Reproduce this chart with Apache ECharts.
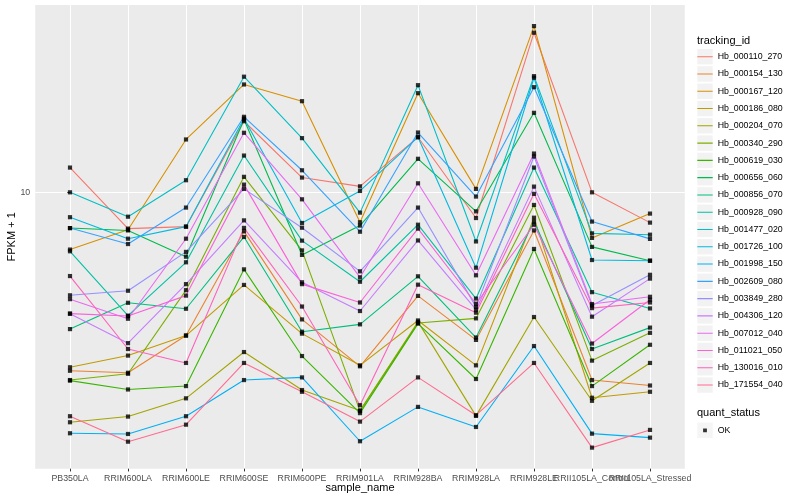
<!DOCTYPE html>
<html><head><meta charset="utf-8">
<script src="https://cdn.jsdelivr.net/npm/echarts@6/dist/echarts.min.js"></script>
<style>html,body{margin:0;padding:0;background:#fff}#c{width:800px;height:500px}</style>
</head><body><div id="c"></div>
<script>
const categories = ['PB350LA','RRIM600LA','RRIM600LE','RRIM600SE','RRIM600PE','RRIM901LA','RRIM928BA','RRIM928LA','RRIM928LE','RRII105LA_Control','RRII105LA_Stressed'];
const trackingIds = ['Hb_000110_270','Hb_000154_130','Hb_000167_120','Hb_000186_080','Hb_000204_070','Hb_000340_290','Hb_000619_030','Hb_000656_060','Hb_000856_070','Hb_000928_090','Hb_001477_020','Hb_001726_100','Hb_001998_150','Hb_002609_080','Hb_003849_280','Hb_004306_120','Hb_007012_040','Hb_011021_050','Hb_130016_010','Hb_171554_040'];
const colors = ['#F8766D','#EA8331','#D89000','#C09B00','#A3A500','#7CAE00','#39B600','#00BB4E','#00BF7D','#00C1A3','#00BFC4','#00BAE0','#00B0F6','#35A2FF','#9590FF','#C77CFF','#E76BF3','#FA62DB','#FF62BC','#FF6C90'];
const yTickValues = [10];
const quantStatus = ['OK'];

const s000110_270 = [11.97, 7.72, 7.83, 16.70, 11.14, 10.46, 14.89, 8.33, 31.55, 10.02, 8.06];
const s000154_130 = [2.78, 2.74, 3.58, 7.57, 4.02, 2.87, 4.76, 3.47, 7.62, 2.60, 2.50];
const s000167_120 = [6.64, 7.66, 14.65, 21.75, 19.29, 8.08, 20.43, 10.27, 33.09, 7.22, 8.60];
const s000186_080 = [2.85, 3.10, 3.58, 5.15, 3.63, 2.89, 3.99, 2.89, 8.35, 2.29, 2.39];
const s000204_070 = [1.92, 2.00, 2.28, 3.18, 2.42, 2.09, 3.95, 2.01, 4.09, 2.24, 2.94];
const s000340_290 = [2.60, 2.72, 4.96, 11.20, 6.60, 2.08, 3.92, 4.05, 9.15, 2.99, 3.65];
const s000619_030 = [2.59, 2.43, 2.49, 5.76, 3.09, 2.05, 3.90, 2.62, 6.67, 2.49, 3.35];
const s000656_060 = [7.75, 7.62, 6.31, 16.91, 6.39, 7.89, 12.75, 8.74, 17.74, 6.77, 6.13];
const s000856_070 = [3.75, 4.53, 4.34, 7.27, 3.68, 3.88, 5.48, 3.53, 8.12, 3.25, 3.79];
const s000928_090 = [6.56, 4.13, 6.06, 13.05, 7.08, 5.27, 7.94, 4.67, 11.97, 4.89, 4.35];
const s001477_020 = [10.02, 8.41, 10.93, 23.0, 14.79, 8.66, 21.64, 7.04, 23.09, 7.46, 7.39];
const s001726_100 = [8.38, 7.18, 7.83, 17.03, 8.04, 10.12, 14.89, 5.83, 22.83, 6.16, 6.13];
const s001998_150 = [1.774, 1.765, 2.005, 2.60, 2.65, 1.675, 2.144, 1.856, 3.32, 1.769, 1.719];
const s002609_080 = [7.75, 6.91, 8.98, 17.24, 11.74, 7.55, 15.40, 9.72, 21.33, 8.12, 7.17];
const s003849_280 = [4.78, 4.94, 6.53, 10.27, 7.77, 5.68, 8.98, 4.40, 12.96, 4.44, 5.54];
const s004306_120 = [4.19, 3.39, 5.18, 8.19, 5.25, 4.27, 7.09, 4.31, 10.44, 4.10, 5.39];
const s007012_040 = [4.65, 4.04, 7.18, 15.37, 9.53, 5.44, 10.69, 5.52, 13.24, 4.49, 4.73];
const s011021_050 = [4.19, 4.12, 4.77, 10.59, 5.18, 4.54, 7.72, 4.50, 7.94, 3.38, 4.63];
const s130016_010 = [5.49, 3.25, 2.94, 7.76, 4.41, 2.17, 5.16, 4.22, 9.91, 4.36, 4.54];
const s171554_040 = [2.005, 1.670, 1.887, 2.94, 2.39, 1.929, 2.65, 2.02, 2.94, 1.600, 1.817];

const seriesValues = [s000110_270, s000154_130, s000167_120, s000186_080, s000204_070, s000340_290, s000619_030, s000656_060, s000856_070, s000928_090, s001477_020, s001726_100, s001998_150, s002609_080, s003849_280, s004306_120, s007012_040, s011021_050, s130016_010, s171554_040];

const FONT = '"Liberation Sans", Arial, Helvetica, sans-serif';
const all = seriesValues.flat();
const lmin = Math.log10(Math.min(...all)), lmax = Math.log10(Math.max(...all));
const pad = (lmax - lmin) * 0.05;
const yMin = Math.pow(10, lmin - pad), yMax = Math.pow(10, lmax + pad);
const catIdx = categories.map((c, i) => i);
const evenIdx = catIdx.filter(i => i % 2 === 0);
const oddIdx = catIdx.filter(i => i % 2 === 1);

const lineSeries = trackingIds.map((id, k) => ({
  type: 'line', name: id, color: colors[k], xAxisIndex: 0, yAxisIndex: 0,
  data: seriesValues[k].map((v, i) => [i, v]),
  symbol: 'none', showSymbol: false,
  lineStyle: { width: 1.1, color: colors[k] },
  emphasis: { disabled: true }, animation: false, z: 2
}));
const pointSeries = {
  type: 'scatter', name: quantStatus[0], xAxisIndex: 0, yAxisIndex: 0,
  data: seriesValues.flatMap(vals => vals.map((v, i) => [i, v])),
  symbol: 'rect', symbolSize: 4.2, itemStyle: { color: '#000000' },
  emphasis: { disabled: true }, animation: false, z: 3
};

const lineIcon = 'path://M0 0h0.01v0.01h-0.01zM0 8.09h15.4v1.1h-15.4zM15.39 17.27h0.01v0.01h-0.01z';
const pointIcon = 'path://M0 0h0.01v0.01h-0.01zM5.8 6.74h3.8v3.8h-3.8zM15.39 17.27h0.01v0.01h-0.01z';
const legendBase = { orient: 'vertical', type: 'plain', selectedMode: false, padding: 0 };
const labelStyle = { formatter: v => categories[Math.round(v)], color: '#4D4D4D', fontSize: 8.8, margin: 4.95, fontFamily: FONT, hideOverlap: false, showMinLabel: true, showMaxLabel: true };

const option = {
  animation: false,
  backgroundColor: '#ffffff',
  title: [
    { text: 'tracking_id', left: 697, top: 35, padding: 0, textStyle: { fontSize: 11, fontWeight: 'normal', color: '#000', fontFamily: FONT } },
    { text: 'quant_status', left: 697, top: 407, padding: 0, textStyle: { fontSize: 11, fontWeight: 'normal', color: '#000', fontFamily: FONT } }
  ],
  legend: [
    Object.assign({}, legendBase, { data: trackingIds, left: 697.3, top: 49.0, itemWidth: 15.4, itemHeight: 15.4, itemGap: 1.88, icon: 'rect', itemStyle: { color: '#F2F2F2', borderWidth: 0 }, formatter: () => '', textStyle: { fontSize: 8.8 } }),
    Object.assign({}, legendBase, { data: trackingIds, left: 697.3, top: 48.06, itemWidth: 15.4, itemHeight: 17.28, itemGap: 0, icon: lineIcon, itemStyle: { borderWidth: 0 }, textStyle: { fontSize: 8.8, color: '#000', fontFamily: FONT } }),
    Object.assign({}, legendBase, { data: quantStatus, left: 697.3, top: 422.6, itemWidth: 15.4, itemHeight: 15.4, itemGap: 0, icon: 'rect', itemStyle: { color: '#F2F2F2', borderWidth: 0 }, formatter: () => '', textStyle: { fontSize: 8.8 } }),
    Object.assign({}, legendBase, { data: quantStatus, left: 697.3, top: 421.66, itemWidth: 15.4, itemHeight: 17.28, itemGap: 0, icon: pointIcon, itemStyle: { color: '#000', borderWidth: 0 }, textStyle: { fontSize: 8.8, color: '#000', fontFamily: FONT } })
  ],
  grid: { left: 35.2, right: 115.2, top: 5, bottom: 31.3, show: true, backgroundColor: '#EBEBEB', borderWidth: 0, containLabel: false, outerBoundsMode: 'none' },
  xAxis: [{
    type: 'value', position: 'bottom', min: -0.6, max: 10.6,
    axisLine: { show: false },
    axisTick: { show: true, length: 2.75, lineStyle: { color: '#333333', width: 1 }, customValues: catIdx },
    axisLabel: Object.assign({ customValues: evenIdx }, labelStyle),
    splitLine: { show: true, lineStyle: { color: '#FFFFFF', width: 1 } },
    minorSplitLine: { show: false },
    name: 'sample_name', nameLocation: 'middle', nameGap: 13.5, nameMoveOverlap: false,
    nameTextStyle: { color: '#000', fontSize: 11, fontFamily: FONT }
  }, {
    type: 'value', position: 'bottom', offset: 0, min: -0.6, max: 10.6,
    axisLine: { show: false },
    axisTick: { show: false, customValues: oddIdx },
    axisLabel: Object.assign({ customValues: oddIdx }, labelStyle),
    splitLine: { show: false },
    minorSplitLine: { show: false }
  }],
  yAxis: {
    type: 'log', logBase: 10, min: yMin, max: yMax,
    axisLine: { show: false },
    axisTick: { show: true, length: 2.75, lineStyle: { color: '#333333', width: 1 }, customValues: yTickValues },
    axisLabel: { customValues: yTickValues, color: '#4D4D4D', fontSize: 8.8, margin: 4.95, fontFamily: FONT, showMinLabel: true, showMaxLabel: true },
    splitLine: { show: true, lineStyle: { color: '#FFFFFF', width: 1 } },
    name: 'FPKM + 1', nameLocation: 'middle', nameGap: 17.5, nameRotate: 90, nameMoveOverlap: false,
    nameTextStyle: { color: '#000', fontSize: 11, fontFamily: FONT }
  },
  series: lineSeries.concat([pointSeries])
};
const chart = echarts.init(document.getElementById('c'), null, { renderer: 'canvas' });
chart.setOption(option);
</script></body></html>
